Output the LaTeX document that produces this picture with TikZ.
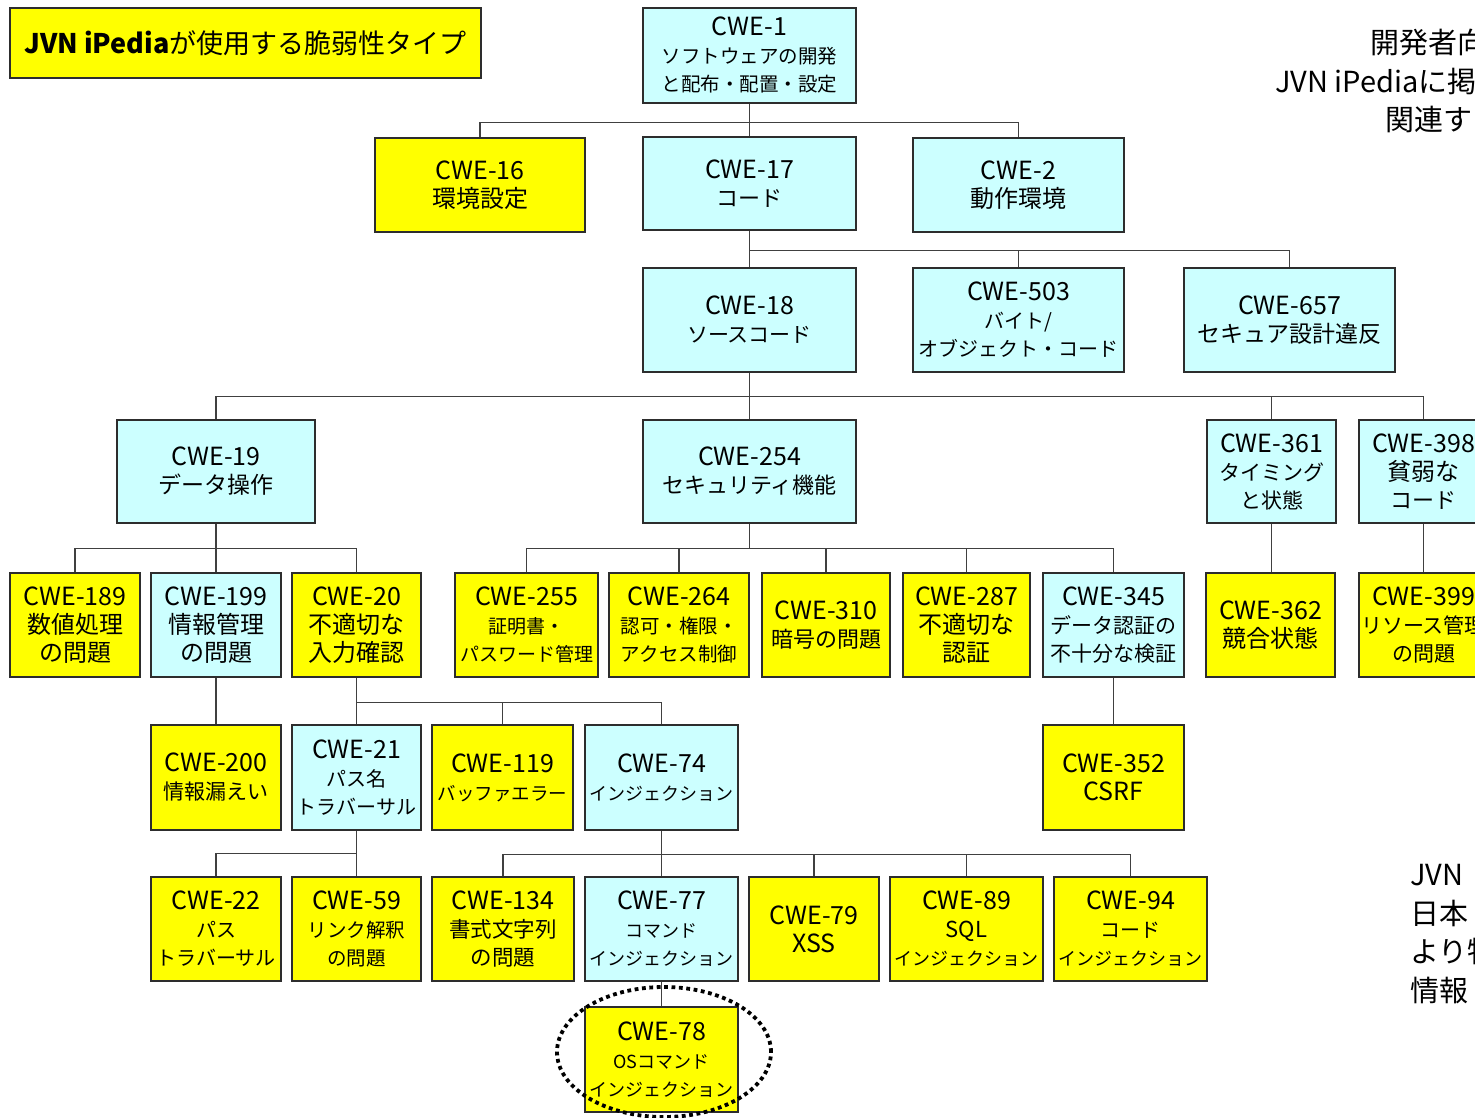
\documentclass[tikz,border=0pt]{standalone}
\usepackage{fontspec}
\setmainfont{Noto Sans CJK JP}
\usetikzlibrary{shapes.geometric}
\definecolor{cwy}{RGB}{255,255,0}
\definecolor{cwc}{RGB}{204,255,255}
\definecolor{edgec}{RGB}{45,45,45}
\newcommand{\jf}[2]{{\fontsize{#1}{#1}\selectfont #2}}
\tikzset{
  bx/.style={draw=edgec, line width=1.3pt, inner sep=0pt, align=center,
    font=\fontsize{25}{28}\selectfont},
  yb/.style={bx, fill=cwy},
  cb/.style={bx, fill=cwc},
  ln/.style={draw=black!75, line width=1.6pt},
  side/.style={inner sep=0pt, anchor=west, font=\fontsize{29}{29}\selectfont},
  hilite/.style={ellipse, draw=black, line width=3.8pt, dash pattern=on 3.8pt off 3.6pt},
}
\begin{document}
\begin{tikzpicture}[x=1pt, y=-1pt]
\useasboundingbox (0,0) rectangle (1475,1118);
\fill[white] (0,0) rectangle (1475,1118);
\begin{scope}
\clip (0,0) rectangle (1475,1118);

% title
\node[yb, minimum width=471pt, minimum height=70pt, font=\fontsize{27}{30}\selectfont] (title) at (245.5,43) {{\bfseries JVN iPedia}が使用する脆弱性タイプ};

% level 0-1
\node[cb, minimum width=213pt, minimum height=95pt] (c1) at (749.5,55.5) {CWE-1\\\jf{19.5}{ソフトウェアの開発}\\\jf{19.5}{と配布・配置・設定}};
\node[yb, minimum width=210pt, minimum height=94pt] (c16) at (480,185) {CWE-16\\\jf{24}{環境設定}};
\node[cb, minimum width=213pt, minimum height=93pt] (c17) at (749.5,183.5) {CWE-17\\\jf{22}{コード}};
\node[cb, minimum width=211pt, minimum height=94pt] (c2) at (1018.5,185) {CWE-2\\\jf{24}{動作環境}};

% level 2
\node[cb, minimum width=213pt, minimum height=104pt] (c18) at (749.5,320) {CWE-18\\\jf{21}{ソースコード}};
\node[cb, minimum width=211pt, minimum height=104pt] (c503) at (1018.5,320) {CWE-503\\\jf{20}{バイト/}\\\jf{20}{オブジェクト・コード}};
\node[cb, minimum width=211pt, minimum height=104pt] (c657) at (1289.5,320) {CWE-657\\\jf{23}{セキュア設計違反}};

% level 3
\node[cb, minimum width=198pt, minimum height=103pt] (c19) at (216,471.5) {CWE-19\\\jf{23}{データ操作}};
\node[cb, minimum width=213pt, minimum height=103pt] (c254) at (749.5,471.5) {CWE-254\\\jf{22}{セキュリティ機能}};
\node[cb, minimum width=129pt, minimum height=103pt] (c361) at (1271.5,471.5) {CWE-361\\\jf{21}{タイミング}\\\jf{21}{と状態}};
\node[cb, minimum width=129pt, minimum height=103pt] (c398) at (1423.5,471.5) {CWE-398\\\jf{24}{貧弱な}\\\jf{22}{コード}};

% level 4
\node[yb, minimum width=130pt, minimum height=104pt] (c189) at (75,625) {CWE-189\\\jf{24}{数値処理}\\\jf{24}{の問題}};
\node[cb, minimum width=130pt, minimum height=104pt] (c199) at (216,625) {CWE-199\\\jf{24}{情報管理}\\\jf{24}{の問題}};
\node[yb, minimum width=129pt, minimum height=104pt] (c20) at (356.5,625) {CWE-20\\\jf{24}{不適切な}\\\jf{24}{入力確認}};
\node[yb, minimum width=143pt, minimum height=104pt] (c255) at (526.5,625) {CWE-255\\\jf{19}{証明書・}\\\jf{19}{パスワード管理}};
\node[yb, minimum width=140pt, minimum height=104pt] (c264) at (679,625) {CWE-264\\\jf{19.5}{認可・権限・}\\\jf{19.5}{アクセス制御}};
\node[yb, minimum width=128pt, minimum height=104pt] (c310) at (826,625) {CWE-310\\\jf{22}{暗号の問題}};
\node[yb, minimum width=127pt, minimum height=104pt] (c287) at (966.5,625) {CWE-287\\\jf{24}{不適切な}\\\jf{24}{認証}};
\node[cb, minimum width=141pt, minimum height=104pt] (c345) at (1113.5,625) {CWE-345\\\jf{21}{データ認証の}\\\jf{21}{不十分な検証}};
\node[yb, minimum width=129pt, minimum height=104pt] (c362) at (1270.5,625) {CWE-362\\\jf{24}{競合状態}};
\node[yb, minimum width=129pt, minimum height=104pt] (c399) at (1423.5,625) {CWE-399\\\jf{21}{リソース管理}\\\jf{21}{の問題}};

% level 5
\node[yb, minimum width=130pt, minimum height=105pt] (c200) at (216,777.5) {CWE-200\\\jf{21}{情報漏えい}};
\node[cb, minimum width=129pt, minimum height=105pt] (c21) at (356.5,777.5) {CWE-21\\\jf{20}{パス名}\\\jf{20}{トラバーサル}};
\node[yb, minimum width=141pt, minimum height=105pt] (c119) at (502.5,777.5) {CWE-119\\\jf{18.5}{バッファエラー}};
\node[cb, minimum width=153pt, minimum height=105pt] (c74) at (661.5,777.5) {CWE-74\\\jf{18}{インジェクション}};
\node[yb, minimum width=141pt, minimum height=105pt] (c352) at (1113.5,777.5) {CWE-352\\CSRF};

% level 6
\node[yb, minimum width=130pt, minimum height=104pt] (c22) at (216,929) {CWE-22\\\jf{20}{パス}\\\jf{20}{トラバーサル}};
\node[yb, minimum width=129pt, minimum height=104pt] (c59) at (356.5,929) {CWE-59\\\jf{19.5}{リンク解釈}\\\jf{19.5}{の問題}};
\node[yb, minimum width=142pt, minimum height=104pt] (c134) at (503,929) {CWE-134\\\jf{21.5}{書式文字列}\\\jf{21.5}{の問題}};
\node[cb, minimum width=153pt, minimum height=104pt] (c77) at (661.5,929) {CWE-77\\\jf{18}{コマンド}\\\jf{18}{インジェクション}};
\node[yb, minimum width=130pt, minimum height=104pt] (c79) at (814,929) {CWE-79\\XSS};
\node[yb, minimum width=153pt, minimum height=104pt] (c89) at (966.5,929) {CWE-89\\\jf{22}{SQL}\\\jf{18}{インジェクション}};
\node[yb, minimum width=153pt, minimum height=104pt] (c94) at (1130.5,929) {CWE-94\\\jf{20}{コード}\\\jf{18}{インジェクション}};

% level 7
\node[yb, minimum width=153pt, minimum height=105pt] (c78) at (661.5,1059.5) {CWE-78\\\jf{18}{OSコマンド}\\\jf{18}{インジェクション}};

% connectors
\draw[ln] (c1.south) -- ++(0,19) coordinate (j1);
\draw[ln] (c16.north) -- (c16.north |- j1) -- (c2.north |- j1) -- (c2.north);
\draw[ln] (c17.north) -- (c17.north |- j1);

\draw[ln] (c17.south) -- ++(0,20) coordinate (j2);
\draw[ln] (c18.north) -- (c18.north |- j2) -- (c657.north |- j2) -- (c657.north);
\draw[ln] (c503.north) -- (c503.north |- j2);

\draw[ln] (c18.south) -- ++(0,24) coordinate (j3);
\draw[ln] (c19.north) -- (c19.north |- j3) -- (c398.north |- j3) -- (c398.north);
\draw[ln] (c254.north) -- (c254.north |- j3);
\draw[ln] (c361.north) -- (c361.north |- j3);

\draw[ln] (c19.south) -- ++(0,25) coordinate (j4);
\draw[ln] (c189.north) -- (c189.north |- j4) -- (c20.north |- j4) -- (c20.north);
\draw[ln] (c199.north) -- (c199.north |- j4);

\draw[ln] (c254.south) -- ++(0,25) coordinate (j5);
\draw[ln] (c255.north) -- (c255.north |- j5) -- (c345.north |- j5) -- (c345.north);
\draw[ln] (c264.north) -- (c264.north |- j5);
\draw[ln] (c310.north) -- (c310.north |- j5);
\draw[ln] (c287.north) -- (c287.north |- j5);

\draw[ln] (c361.south) -- (c361.south |- c362.north);
\draw[ln] (c398.south) -- (c399.north);
\draw[ln] (c199.south) -- (c200.north);

\draw[ln] (c20.south) -- ++(0,25) coordinate (j6);
\draw[ln] (c21.north) -- (c21.north |- j6) -- (c74.north |- j6) -- (c74.north);
\draw[ln] (c119.north) -- (c119.north |- j6);

\draw[ln] (c345.south) -- (c352.north);

\draw[ln] (c21.south) -- ++(0,23) coordinate (j7);
\draw[ln] (c22.north) -- (c22.north |- j7) -- (c59.north |- j7) -- (c59.north);

\draw[ln] (c74.south) -- ++(0,24) coordinate (j8);
\draw[ln] (c134.north) -- (c134.north |- j8) -- (c94.north |- j8) -- (c94.north);
\draw[ln] (c77.north) -- (c77.north |- j8);
\draw[ln] (c79.north) -- (c79.north |- j8);
\draw[ln] (c89.north) -- (c89.north |- j8);

\draw[ln] (c77.south) -- (c78.north);

% highlight ellipse
\node[hilite, minimum width=214pt, minimum height=130pt] (hl) at (664,1052) {};

% side texts (cut off at right edge, as in the reference)
\node[side] (t1) at (1370,43) {開発者向};
\node[side] (t2) at (1275,81) {JVN iPediaに掲};
\node[side] (t3) at (1385,119) {関連す};

\node[side] (b1) at (1410,875) {JVN};
\node[side] (b2) at (1410,913) {日本};
\node[side] (b3) at (1410,951) {より特};
\node[side] (b4) at (1410,990) {情報};
\end{scope}
\end{tikzpicture}
\end{document}
